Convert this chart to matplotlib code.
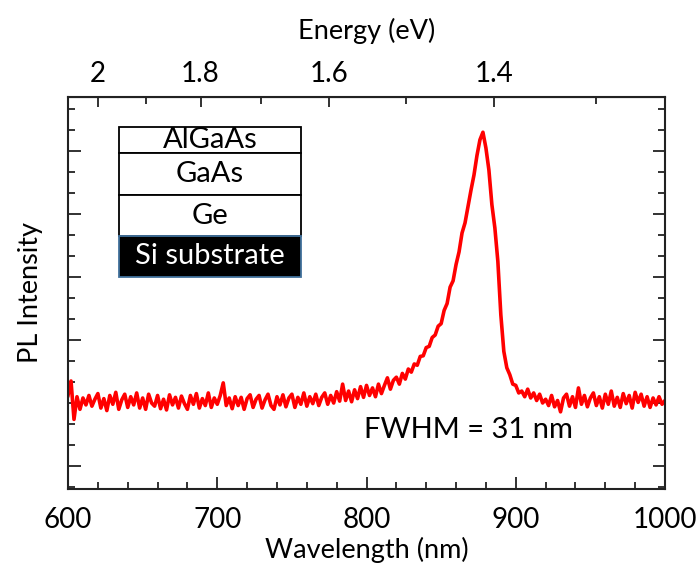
import numpy as np
import matplotlib.pyplot as plt
from matplotlib.patches import Rectangle

plt.rcParams['font.family'] = ['Lato', 'DejaVu Sans']

# PL spectrum, 2 nm steps
wavelength = np.arange(600, 1001, 2)
intensity = [
    1.12, 1.35, 0.74, 1.10, 0.90, 1.08, 0.97, 1.12, 0.95, 1.06,
    1.15, 0.92, 1.07, 0.88, 1.12, 0.98, 1.17, 0.90, 1.05, 1.14,
    0.93, 1.10, 0.97, 1.16, 0.92, 1.08, 0.90, 1.14, 1.00, 0.95,
    1.12, 0.91, 1.06, 0.89, 1.13, 0.97, 1.09, 0.92, 1.11, 0.99,
    0.90, 1.12, 0.98, 1.15, 0.92, 1.07, 0.96, 1.16, 0.93, 1.08,
    0.98, 1.12, 1.32, 0.96, 1.08, 0.91, 1.10, 0.96, 1.09, 0.90,
    1.07, 1.13, 0.93, 1.06, 1.12, 0.92, 1.05, 1.14, 0.96, 0.90,
    1.10, 0.97, 1.13, 0.94, 1.08, 1.14, 0.93, 1.09, 0.98, 1.16,
    0.95, 1.10, 0.99, 1.14, 0.96, 1.09, 1.16, 0.98, 1.12, 1.00,
    1.18, 1.03, 1.30, 1.04, 1.19, 1.02, 1.21, 1.07, 1.26, 1.09,
    1.28, 1.12, 1.24, 1.10, 1.30, 1.15, 1.28, 1.40, 1.22, 1.36,
    1.41, 1.30, 1.47, 1.38, 1.54, 1.49, 1.62, 1.60, 1.74, 1.75,
    1.88, 1.90, 2.04, 2.08, 2.22, 2.26, 2.47, 2.58, 2.84, 2.94,
    3.20, 3.40, 3.70, 3.86, 4.12, 4.38, 4.62, 4.93, 5.18, 5.30,
    5.05, 4.70, 4.15, 3.78, 3.25, 2.40, 1.82, 1.56, 1.45, 1.30,
    1.28, 1.16, 1.19, 1.10, 1.22, 1.08, 1.16, 1.04, 1.14, 1.00,
    1.06, 0.96, 1.12, 0.94, 1.04, 0.86, 1.08, 1.14, 0.95, 1.10,
    0.93, 1.24, 0.98, 1.12, 0.94, 1.08, 1.16, 0.96, 1.10, 0.92,
    1.14, 0.98, 1.19, 0.95, 1.09, 0.93, 1.15, 0.99, 1.12, 0.92,
    1.17, 1.01, 1.14, 0.95, 1.10, 0.93, 1.08, 0.97, 1.10, 0.98,
    1.04,
]

energy_ticks = [2, 1.8, 1.6, 1.4]
energy_minor = [1.9, 1.7, 1.5, 1.3]
layers = ['AlGaAs', 'GaAs', 'Ge', 'Si substrate']
layer_edges = [0.923, 0.856, 0.750, 0.645, 0.542]  # axes fraction, top to bottom
layer_face = ['white', 'white', 'white', 'black']
layer_text = ['black', 'black', 'black', 'white']

fig = plt.figure(figsize=(6.97, 5.67), dpi=100)
ax = fig.add_axes([0.0976, 0.1376, 0.8565, 0.6914])

ax.plot(wavelength, intensity, color='red', lw=2.6)

ax.set_xlim(600, 1000)
ax.set_ylim(-0.365, 5.86)
ax.set_xticks([600, 700, 800, 900, 1000])
ax.set_xticks(np.arange(620, 1000, 20), minor=True)
ax.set_yticks(np.arange(0, 6, 1))
ax.set_yticks(np.arange(-1 / 3, 5.9, 1 / 3), minor=True)
ax.set_yticklabels([])
ax.tick_params(which='major', direction='in', length=9, width=1.3,
               labelsize=20, right=True, pad=13, colors='#222222')
ax.tick_params(which='minor', direction='in', length=5, width=1.3, right=True,
               colors='#222222')
ax.tick_params(axis='x', which='both', top=False, labelcolor='black')
for s in ax.spines.values():
    s.set_linewidth(1.5)
    s.set_color('#222222')

ax.set_xlabel('Wavelength (nm)', fontsize=19.5, labelpad=3)
ax.set_ylabel('PL Intensity', fontsize=19.5, labelpad=5)

top = ax.secondary_xaxis('top', functions=(lambda x: 1239.84 / x, lambda e: 1239.84 / e))
top.set_xticks(energy_ticks)
top.set_xticklabels(['2', '1.8', '1.6', '1.4'])
top.set_xticks(energy_minor, minor=True)
top.tick_params(which='major', direction='in', length=7, width=1.3, labelsize=20, pad=7,
                colors='#222222', labelcolor='black')
top.tick_params(which='minor', direction='in', length=5, width=1.3, colors='#222222')
top.set_xlabel('Energy (eV)', fontsize=19.5, labelpad=16)

# layer stack inset
x0, w = 0.0854, 0.305
for i, name in enumerate(layers):
    y_top, y_bot = layer_edges[i], layer_edges[i + 1]
    ec = '#41719C' if layer_face[i] == 'black' else 'black'
    ax.add_patch(Rectangle((x0, y_bot), w, y_top - y_bot, transform=ax.transAxes,
                           facecolor=layer_face[i], edgecolor=ec, lw=1.3, zorder=3))
    ax.text(x0 + w / 2, (y_top + y_bot) / 2, name, transform=ax.transAxes,
            ha='center', va='center', fontsize=21, color=layer_text[i], zorder=4)

ax.text(0.67, 0.15, 'FWHM = 31 nm', transform=ax.transAxes, ha='center', va='center',
        fontsize=21)

fig.savefig('out.png', dpi=100)
